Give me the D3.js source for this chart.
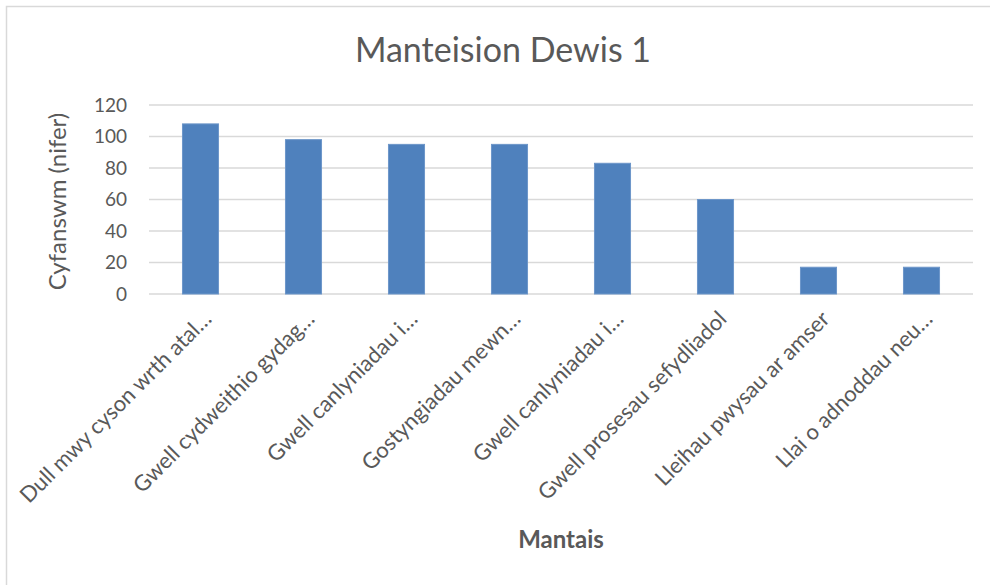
<!DOCTYPE html>
<html>
<head>
<meta charset="utf-8">
<script src="https://cdn.jsdelivr.net/npm/d3@7"></script>
<style>
  body { margin: 0; background: #fff; }
  text { font-family: Lato, "Open Sans", sans-serif; fill: #595959; }
</style>
</head>
<body>
<div id="chart"></div>
<script>
var categories = [
    'Dull mwy cyson wrth atal\u2026',
    'Gwell cydweithio gydag\u2026',
    'Gwell canlyniadau i\u2026',
    'Gostyngiadau mewn\u2026',
    'Gwell canlyniadau i\u2026',
    'Gwell prosesau sefydliadol',
    'Lleihau pwysau ar amser',
    'Llai o adnoddau neu\u2026'
];
var values = [108, 98, 95, 95, 83, 60, 17, 17];
var yTicks = [0, 20, 40, 60, 80, 100, 120];

var W = 990, H = 585;
var margin = { top: 105, right: 17, bottom: 291, left: 149 },
    width = W - margin.left - margin.right,
    height = H - margin.top - margin.bottom;

var svg = d3.select('#chart')
    .append('svg')
    .attr('width', W)
    .attr('height', H)

// chart border
svg.append('rect')
    .attr('x', 6.5)
    .attr('y', 6.5)
    .attr('width', W)
    .attr('height', H)
    .attr('fill', 'none')
    .attr('stroke', '#d9d9d9')
    .attr('stroke-width', 1.5)

var g = svg.append('g')
    .attr('transform', 'translate(' + margin.left + ',' + margin.top + ')')

var x = d3.scaleBand()
    .domain(d3.range(categories.length))
    .range([0, width])
    .paddingInner(0.65)
    .paddingOuter(0.325)

var y = d3.scaleLinear()
    .domain([0, 120])
    .range([height, 0])

// gridlines
g.selectAll('.grid')
    .data(yTicks)
    .enter()
    .append('line')
    .attr('x1', 0)
    .attr('x2', width)
    .attr('y1', function (d) { return y(d); })
    .attr('y2', function (d) { return y(d); })
    .attr('stroke', '#d9d9d9')
    .attr('stroke-width', 1.5)

// y axis labels
var yAxis = d3.axisLeft(y).tickValues(yTicks).tickSize(0).tickPadding(22)
g.append('g')
    .call(yAxis)
    .call(function (a) { a.select('.domain').remove(); })
    .selectAll('text')
    .attr('font-size', 19)
    .attr('font-family', null)
    .attr('fill', '#595959')

// bars
g.selectAll('.bar')
    .data(values)
    .enter()
    .append('rect')
    .attr('x', function (d, i) { return x(i); })
    .attr('y', function (d) { return y(d); })
    .attr('width', x.bandwidth())
    .attr('height', function (d) { return height - y(d); })
    .attr('fill', '#4f81bd')
    .attr('stroke', '#6d96c9')
    .attr('stroke-width', 1)

// category labels
g.selectAll('.cat')
    .data(categories)
    .enter()
    .append('text')
    .attr('transform', function (d, i) {
        return 'translate(' + (x(i) + x.bandwidth() / 2 + 7) + ',' + (height + 21) + ') rotate(-45)';
    })
    .attr('text-anchor', 'end')
    .attr('dy', '0.35em')
    .attr('font-size', 22)
    .text(function (d) { return d; })

// title
svg.append('text')
    .attr('x', 503)
    .attr('y', 62)
    .attr('text-anchor', 'middle')
    .attr('font-size', 34)
    .text('Manteision Dewis 1')

// y title
svg.append('text')
    .attr('transform', 'translate(66,' + (margin.top + height / 2 + 2) + ') rotate(-90)')
    .attr('text-anchor', 'middle')
    .attr('font-size', 24)
    .text('Cyfanswm (nifer)')

// x title
svg.append('text')
    .attr('x', margin.left + width / 2)
    .attr('y', 548)
    .attr('text-anchor', 'middle')
    .attr('font-size', 24)
    .attr('font-weight', 'bold')
    .text('Mantais')
</script>
</body>
</html>
